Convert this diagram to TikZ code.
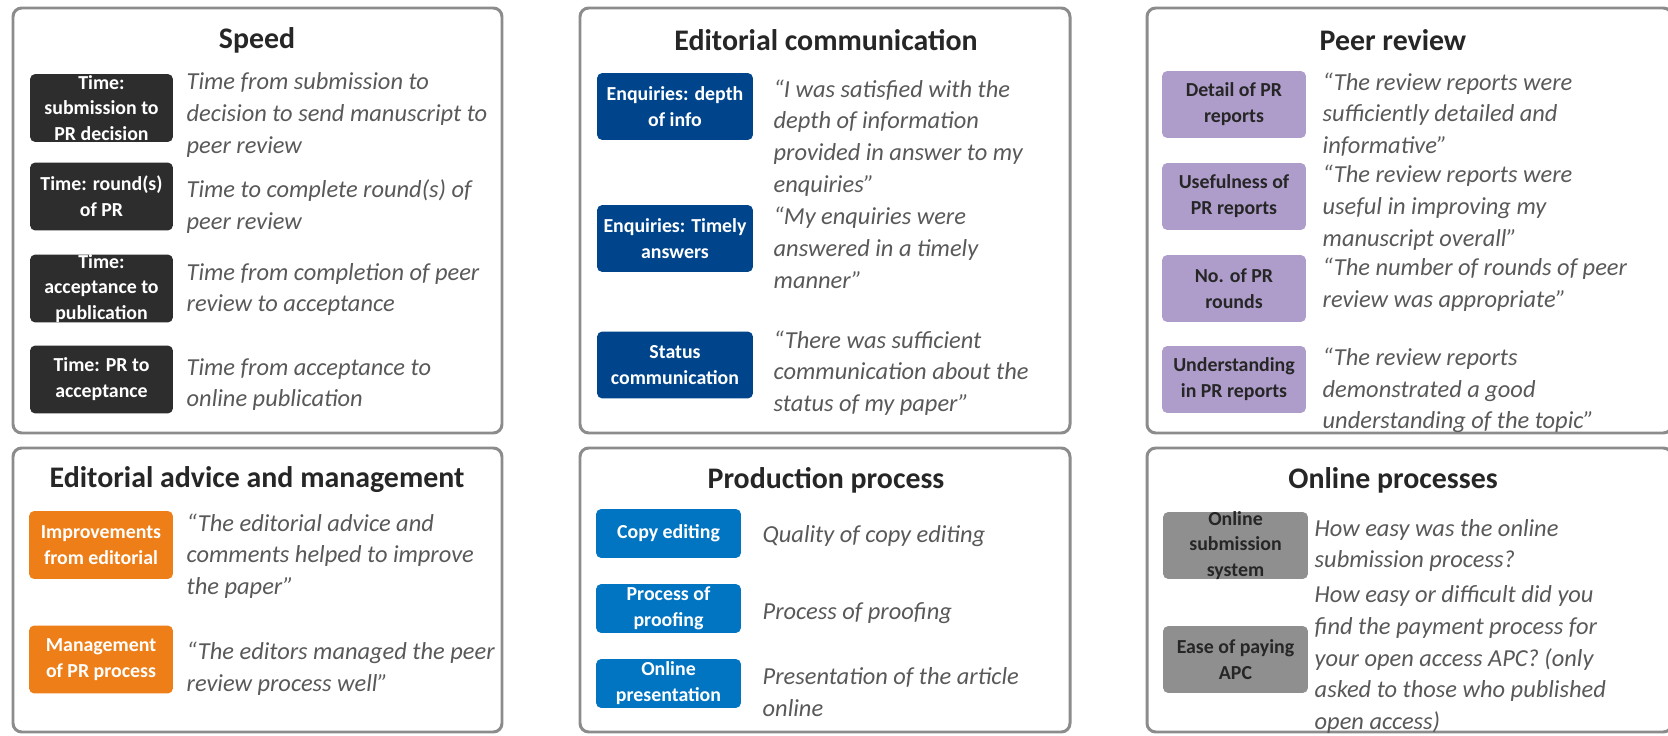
\documentclass[tikz,border=0pt]{standalone}
\usepackage{fontspec}
\setmainfont{Carlito}
\usepackage{tikz}
\usetikzlibrary{positioning}

\definecolor{framegray}{RGB}{140,140,140}
\definecolor{titleblack}{RGB}{38,38,38}
\definecolor{descgray}{RGB}{89,89,89}
\definecolor{speedcol}{RGB}{45,45,45}
\definecolor{commcol}{RGB}{0,69,140}
\definecolor{reviewcol}{RGB}{174,157,203}
\definecolor{advicecol}{RGB}{238,127,24}
\definecolor{prodcol}{RGB}{2,117,194}
\definecolor{onlinecol}{RGB}{143,143,143}

\tikzset{
panel/.style = {draw=framegray, line width=1.7pt, rounded corners=5pt},
paneltitle/.style = {font=\fontsize{17}{20}\selectfont\bfseries, text=titleblack},
tagbox/.style = {rounded corners=3pt, inner sep=0pt, minimum height=1.34cm},
tagtext/.style = {align=center, font=\fontsize{11.3}{14.7}\selectfont\bfseries, text=white},
darktext/.style = {tagtext, text=titleblack},
desc/.style = {align=left, inner sep=0pt, font=\fontsize{13.9}{18.1}\selectfont\itshape, text=descgray},
speedbox/.style = {tagbox, fill=speedcol, minimum width=2.86cm, minimum height=1.36cm},
commbox/.style = {tagbox, fill=commcol, minimum width=3.12cm},
reviewbox/.style = {tagbox, fill=reviewcol, minimum width=2.88cm},
advicebox/.style = {tagbox, fill=advicecol, minimum width=2.88cm, minimum height=1.36cm},
prodbox/.style = {tagbox, fill=prodcol, minimum width=2.9cm, minimum height=0.98cm},
onlinebox/.style = {tagbox, fill=onlinecol, minimum width=2.9cm}
}

\begin{document}
\begin{tikzpicture}[x=0.02cm, y=-0.02cm]
    \path[use as bounding box, fill=white] (0,0) rectangle (1668,736);

    % frames
    \draw[panel] (13,8) rectangle (502,433);
    \draw[panel] (580,8) rectangle (1070,433);
    \draw[panel] (1147,8) rectangle (1672,433);
    \draw[panel] (13,448) rectangle (502,732);
    \draw[panel] (580,448) rectangle (1070,732);
    \draw[panel] (1147,448) rectangle (1672,732);

    \node[paneltitle] (speed) at (257,40) {Speed};
    \node[paneltitle] (comm) at (826,40) {Editorial communication};
    \node[paneltitle] (review) at (1393,40) {Peer review};
    \node[paneltitle] (advice) at (257,480) {Editorial advice and management};
    \node[paneltitle] (prod) at (826,480) {Production process};
    \node[paneltitle] (online) at (1393,480) {Online processes};

    % speed
    \node[speedbox, label={[tagtext]center:{Time:\\submission to\\PR decision}}] (tsub) at (101.5,108) {};
    \node[desc, right=0.26cm of tsub, yshift=-0.14cm] (tsubq) {Time from submission to\\decision to send manuscript to\\peer review};
    \node[speedbox, label={[tagtext]center:{Time: round(s)\\of PR}}] (tround) at (101.5,196.5) {};
    \node[desc, right=0.26cm of tround, yshift=-0.2cm] (troundq) {Time to complete round(s) of\\peer review};
    \node[speedbox, label={[tagtext]center:{Time:\\acceptance to\\publication}}] (tacc) at (101.5,288.5) {};
    \node[desc, right=0.26cm of tacc, yshift=-0.02cm] (taccq) {Time from completion of peer\\review to acceptance};
    \node[speedbox, label={[tagtext]center:{Time: PR to\\acceptance}}] (tpr) at (101.5,379.5) {};
    \node[desc, right=0.26cm of tpr, yshift=-0.1cm] (tprq) {Time from acceptance to\\online publication};

    % editorial communication
    \node[commbox, label={[tagtext]center:{Enquiries: depth\\of info}}] (depth) at (675,106.5) {};
    \node[desc, right=0.4cm of depth, yshift=-0.63cm] (depthq) {“I was satisfied with the\\depth of information\\provided in answer to my\\enquiries”};
    \node[commbox, label={[tagtext]center:{Enquiries: Timely\\answers}}] (timely) at (675,238.5) {};
    \node[desc, right=0.4cm of timely, yshift=-0.19cm] (timelyq) {“My enquiries were\\answered in a timely\\manner”};
    \node[commbox, label={[tagtext]center:{Status\\communication}}] (status) at (675,365) {};
    \node[desc, right=0.4cm of status, yshift=-0.16cm] (statusq) {“There was sufficient\\communication about the\\status of my paper”};

    % peer review
    \node[reviewbox, label={[darktext]center:{Detail of PR\\reports}}] (detail) at (1234,104.5) {};
    \node[desc, right=0.32cm of detail, yshift=-0.2cm] (detailq) {“The review reports were\\sufficiently detailed and\\informative”};
    \node[reviewbox, label={[darktext]center:{Usefulness of\\PR reports}}] (useful) at (1234,196.5) {};
    \node[desc, right=0.32cm of useful, yshift=-0.22cm] (usefulq) {“The review reports were\\useful in improving my\\manuscript overall”};
    \node[reviewbox, label={[darktext]center:{No. of PR\\rounds}}] (rounds) at (1234,288.5) {};
    \node[desc, right=0.32cm of rounds, yshift=0.08cm] (roundsq) {“The number of rounds of peer\\review was appropriate”};
    \node[reviewbox, label={[darktext]center:{Understanding\\in PR reports}}] (underst) at (1234,379.5) {};
    \node[desc, right=0.32cm of underst, yshift=-0.22cm] (understq) {“The review reports\\demonstrated a good\\understanding of the topic”};

    % editorial advice
    \node[advicebox, label={[tagtext]center:{Improvements\\from editorial}}] (improve) at (101,545) {};
    \node[desc, right=0.26cm of improve, yshift=-0.22cm] (improveq) {“The editorial advice and\\comments helped to improve\\the paper”};
    \node[advicebox, label={[tagtext]center:{Management\\of PR process}}] (manage) at (101,659.5) {};
    \node[desc, right=0.26cm of manage, yshift=-0.18cm] (manageq) {“The editors managed the peer\\review process well”};

    % production
    \node[prodbox, label={[tagtext]center:{Copy editing}}] (copy) at (668.5,533.5) {};
    \node[desc, right=0.42cm of copy, yshift=-0.06cm] (copyq) {Quality of copy editing};
    \node[prodbox, label={[tagtext]center:{Process of\\proofing}}] (proof) at (668.5,608.5) {};
    \node[desc, right=0.42cm of proof, yshift=-0.1cm] (proofq) {Process of proofing};
    \node[prodbox, label={[tagtext]center:{Online\\presentation}}] (present) at (668.5,683.5) {};
    \node[desc, right=0.42cm of present, yshift=-0.18cm] (presentq) {Presentation of the article\\online};

    % online
    \node[onlinebox, label={[darktext]center:{Online\\submission\\system}}] (system) at (1235.5,545.5) {};
    \node[desc, right=0.12cm of system] (systemq) {How easy was the online\\submission process?};
    \node[onlinebox, label={[darktext]center:{Ease of paying\\APC}}] (apc) at (1235.5,659.5) {};
    \node[desc, right=0.12cm of apc] (apcq) {How easy or difficult did you\\find the payment process for\\your open access APC? (only\\asked to those who published\\open access)};
\end{tikzpicture}
\end{document}
